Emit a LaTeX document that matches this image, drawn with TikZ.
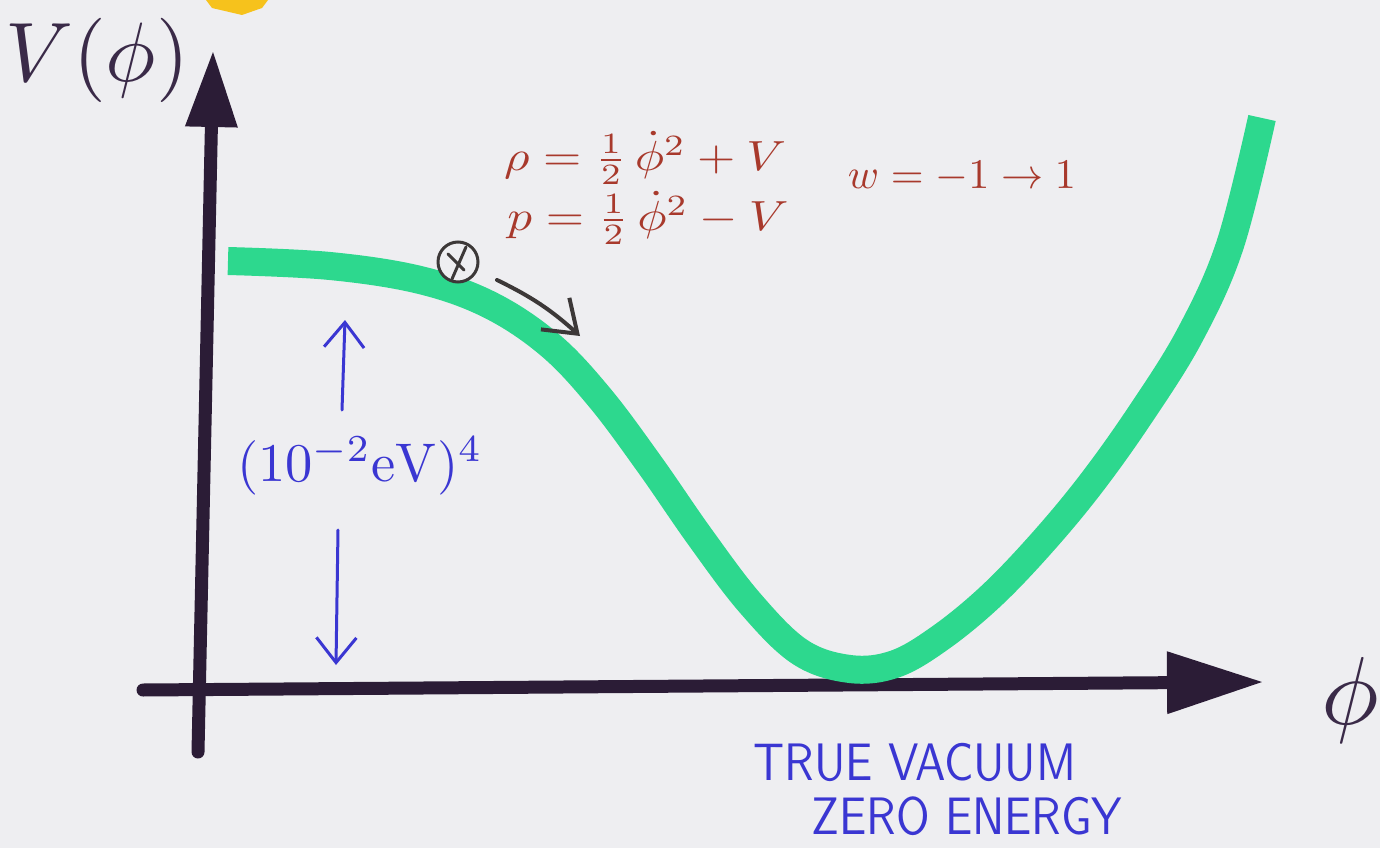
\documentclass[tikz,border=0pt]{standalone}
\usetikzlibrary{arrows.meta}
\definecolor{bgcol}{HTML}{EEEEF1}
\definecolor{axiscol}{HTML}{2B1C36}
\definecolor{labelcol}{HTML}{3A2A48}
\definecolor{curvecol}{HTML}{2DD88E}
\definecolor{redink}{HTML}{A8392C}
\definecolor{blueink}{HTML}{3A36D2}
\definecolor{yellowink}{HTML}{F6C21C}
\definecolor{ballcol}{HTML}{3C3838}
\begin{document}
\begin{tikzpicture}[x=0.02cm,y=-0.02cm,
  axisline/.style={draw=axiscol, line width=0.26cm, line cap=round},
  potential/.style={draw=curvecol, line width=0.56cm, line cap=butt, line join=round},
  redtext/.style={text=redink, inner sep=0pt},
  bluetext/.style={text=blueink, inner sep=0pt},
  bluearrow/.style={draw=blueink, line width=0.06cm, line cap=round, -{Straight Barb[length=0.5cm,width=0.8cm,line width=0.06cm]}},
  motion/.style={draw=ballcol, line width=0.08cm, line cap=round, -{Straight Barb[length=0.6cm,width=0.85cm,line width=0.08cm]}},
  ballstyle/.style={circle, draw=ballcol, line width=0.06cm, minimum size=0.8cm, inner sep=0pt, fill=bgcol}
]
\fill[bgcol] (0,0) rectangle (1380,848);
\useasboundingbox (0,0) rectangle (1380,848);
% yellow corner blob
\fill[yellowink] (206,0) -- (268,0) -- (262,8) -- (242,15) -- (212,8) -- cycle;
% axes
\coordinate (ybot) at (198,752);
\coordinate (ytop) at (213,52);
\draw[axisline, -{Triangle[length=1.5cm,width=1.05cm,line width=1pt]}] (ybot) -- (ytop);
\coordinate (xleft) at (143,690);
\coordinate (xright) at (1262,682);
\draw[axisline, -{Triangle[length=1.9cm,width=1.25cm,line width=1pt]}] (xleft) -- (xright);
% potential curve
\draw[potential] plot[smooth, tension=0.6] coordinates {(228,261) (330,266) (420,280) (490,305) (550,345) (600,398) (650,465) (700,537) (750,603) (800,652) (850,669) (895,664) (940,638) (990,597) (1040,545) (1090,485) (1140,415) (1190,335) (1230,245) (1262,118)};
% ball
\node[ballstyle] (ball) at (458,262) {};
\draw[draw=ballcol, line width=0.06cm, line cap=round] (466,247) -- (452,279);
\draw[draw=ballcol, line width=0.06cm, line cap=round] (448,254) -- (464,270);
\coordinate (ma) at (497,280);
\coordinate (mb) at (580,336);
\draw[motion] (ma) to[bend left=8] (mb);
% equations
\node[redtext, xscale=2.8, yscale=2.4] (rho) at (645,158) {$\rho = \frac{1}{2}\,\dot{\phi}^2 + V$};
\node[redtext, xscale=2.8, yscale=2.4] (pres) at (648,218) {$p = \frac{1}{2}\,\dot{\phi}^2 - V$};
\node[redtext, scale=2.4] (wlab) at (962,177) {$w = -1 \rightarrow 1$};
% energy scale
\node[bluetext, scale=3.1] (energy) at (360,466) {$(10^{-2}\mathrm{eV})^4$};
\coordinate (upbase) at (342,410);
\coordinate (uptip) at (345,320);
\draw[bluearrow] (upbase) -- (uptip);
\coordinate (dnbase) at (338,530);
\coordinate (dntip) at (336,665);
\draw[bluearrow] (dnbase) -- (dntip);
% axis labels
\node[text=labelcol, inner sep=0pt, scale=4.8] (vlab) at (97,60) {$V(\phi)$};
\node[text=labelcol, inner sep=0pt, scale=5.5] (philab) at (1350,700) {$\phi$};
% true vacuum
\node[bluetext, xscale=2.6, yscale=3.0] (tv) at (915,762) {\sffamily TRUE VACUUM};
\node[bluetext, xscale=2.6, yscale=3.0] (ze) at (967,816) {\sffamily ZERO ENERGY};
\end{tikzpicture}
\end{document}
